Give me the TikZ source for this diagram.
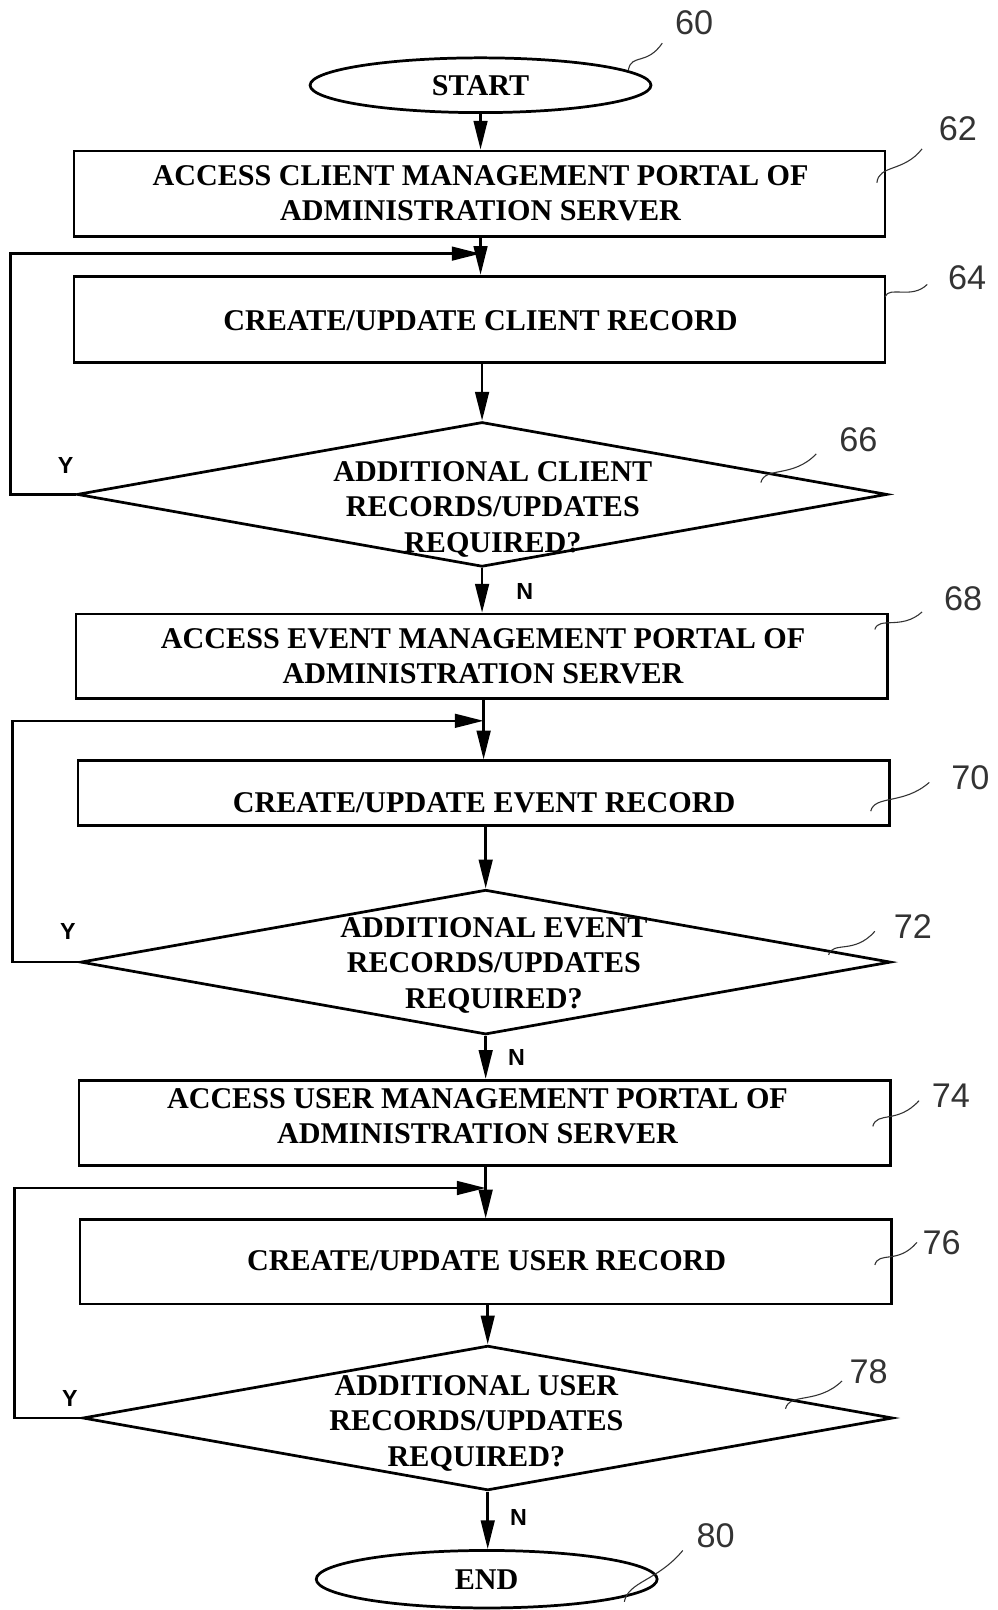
\documentclass[tikz,border=0pt]{standalone}
\usepackage{fontspec}
\setmainfont{Liberation Serif}
\newfontfamily\ynfont{Liberation Sans}
\usetikzlibrary{shapes.geometric,arrows.meta}

\begin{document}
\begin{tikzpicture}[x=0.75pt,y=0.75pt,yscale=-1,xscale=1,
    stepbox/.style={draw,line width=2pt,minimum width=592.5pt,inner sep=0pt},
    boxtext/.style={inner sep=0.75pt,align=center,font=\fontsize{22}{25.5}\selectfont\bfseries},
    termin/.style={draw,ellipse,line width=2pt,minimum width=249pt,minimum height=40pt,inner sep=0.75pt,font=\fontsize{22}{25.5}\selectfont\bfseries},
    decide/.style={draw,diamond,line width=2pt,minimum width=591.75pt,minimum height=105.75pt,inner sep=0pt},
    asktext/.style={inner sep=0.75pt,align=center,font=\fontsize{22}{26}\selectfont\bfseries},
    flow/.style={line width=1.8pt,-{Triangle[length=21pt,width=10pt]}},
    yn/.style={inner sep=0.75pt,font=\ynfont\bfseries\fontsize{17}{17}\selectfont},
    refno/.style={inner sep=0.75pt,text=black!80,font=\ynfont\fontsize{25}{25}\selectfont},
    lead/.style={line width=0.8pt,black!80}]
        \useasboundingbox (0,0) rectangle (971,1568);

        %Shape: Ellipse
        \node[termin] (start) at (468,83) {START};
        %Shape: Rectangle
        \node[stepbox,minimum height=62.25pt] (b62) at (467,188.5) {};
        %Shape: Rectangle
        \node[stepbox,minimum height=63pt] (b64) at (467,311) {};
        %Shape: Diamond
        \node[decide] (d66) at (469.5,481.5) {};
        %Shape: Rectangle
        \node[stepbox,minimum height=61.5pt] (b68) at (469,639) {};
        %Shape: Rectangle
        \node[stepbox,minimum height=47.25pt] (b70) at (471,772.5) {};
        %Shape: Diamond
        \node[decide] (d72) at (473,937) {};
        %Shape: Rectangle
        \node[stepbox,minimum height=62.25pt] (b74) at (472,1093.5) {};
        %Shape: Rectangle
        \node[stepbox,minimum height=61.5pt] (b76) at (473,1229) {};
        %Shape: Diamond
        \node[decide] (d78) at (475,1381) {};
        %Shape: Ellipse
        \node[termin,minimum height=42pt] (end) at (474,1538) {END};

        % Text Node
        \node[boxtext] (t62) at (468,188.5) {ACCESS CLIENT MANAGEMENT PORTAL OF\\ADMINISTRATION SERVER};
        \node[boxtext] (t64) at (468,312) {CREATE/UPDATE CLIENT RECORD};
        \node[asktext] (t66) at (480,496) {ADDITIONAL CLIENT\\RECORDS/UPDATES\\REQUIRED?};
        \node[boxtext] (t68) at (470.5,639) {ACCESS EVENT MANAGEMENT PORTAL OF\\ADMINISTRATION SERVER};
        \node[boxtext] (t70) at (471.5,782) {CREATE/UPDATE EVENT RECORD};
        \node[asktext] (t72) at (481,940) {ADDITIONAL EVENT\\RECORDS/UPDATES\\REQUIRED?};
        \node[boxtext] (t74) at (465,1087.5) {ACCESS USER MANAGEMENT PORTAL OF\\ADMINISTRATION SERVER};
        \node[boxtext] (t76) at (474,1228) {CREATE/UPDATE USER RECORD};
        \node[asktext] (t78) at (464,1386) {ADDITIONAL USER\\RECORDS/UPDATES\\REQUIRED?};

        %Loop corners
        \coordinate (j64) at (468,247);
        \coordinate (l66) at (10,247);
        \coordinate (j70) at (471,702);
        \coordinate (l72) at (12,702);
        \coordinate (j76) at (473,1157);
        \coordinate (l78) at (14,1157);

        %Straight Lines
        \draw[flow] (start) -- (start |- b62.north);
        \draw[flow] (j64 |- b62.south) -- (j64 |- b64.north);
        \draw[flow] (d66.north |- b64.south) -- (d66.north);
        \draw[flow] (d66.south) -- (d66.south |- b68.north);
        \draw[flow] (d66.west) -| (l66) -- (j64);
        \draw[flow] (j70 |- b68.south) -- (j70 |- b70.north);
        \draw[flow] (d72.north |- b70.south) -- (d72.north);
        \draw[flow] (d72.south) -- (d72.south |- b74.north);
        \draw[flow] (d72.west) -| (l72) -- (j70);
        \draw[flow] (j76 |- b74.south) -- (j76 |- b76.north);
        \draw[flow] (d78.north |- b76.south) -- (d78.north);
        \draw[flow] (d78.south) -- (d78.south |- end.north);
        \draw[flow] (d78.west) -| (l78) -- (j76);

        % Text Node
        \node[yn] (y66) at (64,453) {Y};
        \node[yn] (n66) at (511,576) {N};
        \node[yn] (y72) at (66,907) {Y};
        \node[yn] (n72) at (503,1030) {N};
        \node[yn] (y78) at (68,1362) {Y};
        \node[yn] (n78) at (505,1478) {N};

        %Curve Lines
        \draw[lead] (612,68) .. controls (615,52) and (630,64) .. (645,42);
        \draw[lead] (854,178) .. controls (856,160) and (880,168) .. (898,145);
        \draw[lead] (862,289) .. controls (866,278) and (888,292) .. (903,277);
        \draw[lead] (741,470) .. controls (745,454) and (772,466) .. (795,442);
        \draw[lead] (852,613) .. controls (856,600) and (878,614) .. (898,596);
        \draw[lead] (848,790) .. controls (852,774) and (880,784) .. (905,762);
        \draw[lead] (807,930) .. controls (811,916) and (832,930) .. (852,907);
        \draw[lead] (850,1097) .. controls (854,1082) and (874,1095) .. (895,1072);
        \draw[lead] (852,1232) .. controls (856,1218) and (874,1232) .. (893,1210);
        \draw[lead] (765,1372) .. controls (769,1356) and (796,1368) .. (820,1345);
        \draw[lead] (608,1560) .. controls (612,1540) and (640,1540) .. (665,1510);

        % Text Node
        \node[refno] (r60) at (676,22) {60};
        \node[refno] (r62) at (933,125) {62};
        \node[refno] (r64) at (942,270) {64};
        \node[refno] (r66) at (836,428) {66};
        \node[refno] (r68) at (938,583) {68};
        \node[refno] (r70) at (945,757) {70};
        \node[refno] (r72) at (889,902) {72};
        \node[refno] (r74) at (926,1067) {74};
        \node[refno] (r76) at (917,1210) {76};
        \node[refno] (r78) at (846,1336) {78};
        \node[refno] (r80) at (697,1496) {80};
\end{tikzpicture}
\end{document}
